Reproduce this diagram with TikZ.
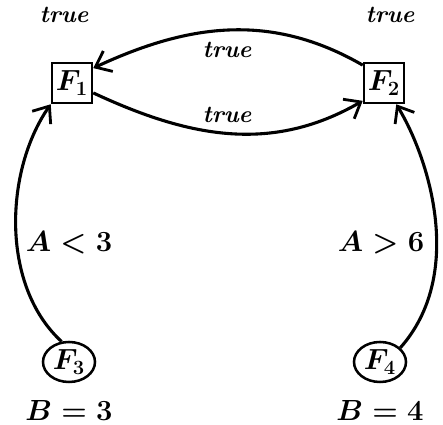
\documentclass[tikz,border=0pt]{standalone}
\usepackage{amsmath}
\usetikzlibrary{arrows.meta, positioning, shapes.geometric}

\begin{document}
\begin{tikzpicture}[
x=0.025cm, y=-0.025cm,
every node/.style={font=\fontsize{17}{20}\selectfont\boldmath},
cond/.style={font=\fontsize{20.5}{24}\selectfont\boldmath},
box/.style={rectangle, draw, line width=1.8pt, minimum width=1cm, minimum height=1cm, inner sep=0pt, font=\fontsize{20}{24}\selectfont\boldmath},
oval/.style={ellipse, draw, line width=1.8pt, minimum width=1.3cm, minimum height=1cm, inner sep=0pt, font=\fontsize{20}{24}\selectfont\boldmath},
arrow/.style={-{Straight Barb[length=10pt,width=16pt,line width=2pt]}, line width=2.2pt}
]
\useasboundingbox (0,0) rectangle (443,425);

\node[box] (f1) at (72,83) {$F_1$};
\node[box] (f2) at (384,83) {$F_2$};
\node[oval] (f3) at (69,362) {$F_3$};
\node[oval] (f4) at (380,362) {$F_4$};

% conditions on the nodes
\node (c1) at (64,15) {\textbf{\textit{true}}};
\node (c2) at (390,15) {\textbf{\textit{true}}};
\node[cond] (c3) at (69,410) {$B=3$};
\node[cond] (c4) at (380,410) {$B=4$};

% edge labels
\node (l12) at (227,115) {\textbf{\textit{true}}};
\node (l21) at (227,50) {\textbf{\textit{true}}};
\node[cond] (l31) at (69,243) {$A<3$};
\node[cond] (l42) at (381,243) {$A>6$};

\draw[arrow] (f2.140) to[out=150, in=25] (f1.35);
\draw[arrow] (f1.-25) to[out=-25, in=-150] (f2.-140);
\draw[arrow] (f3.110) .. controls (0,285) and (5,170) .. (f1.south west);
\draw[arrow] (f4.35) .. controls (465,275) and (430,160) .. (f2.-60);

\end{tikzpicture}
\end{document}
